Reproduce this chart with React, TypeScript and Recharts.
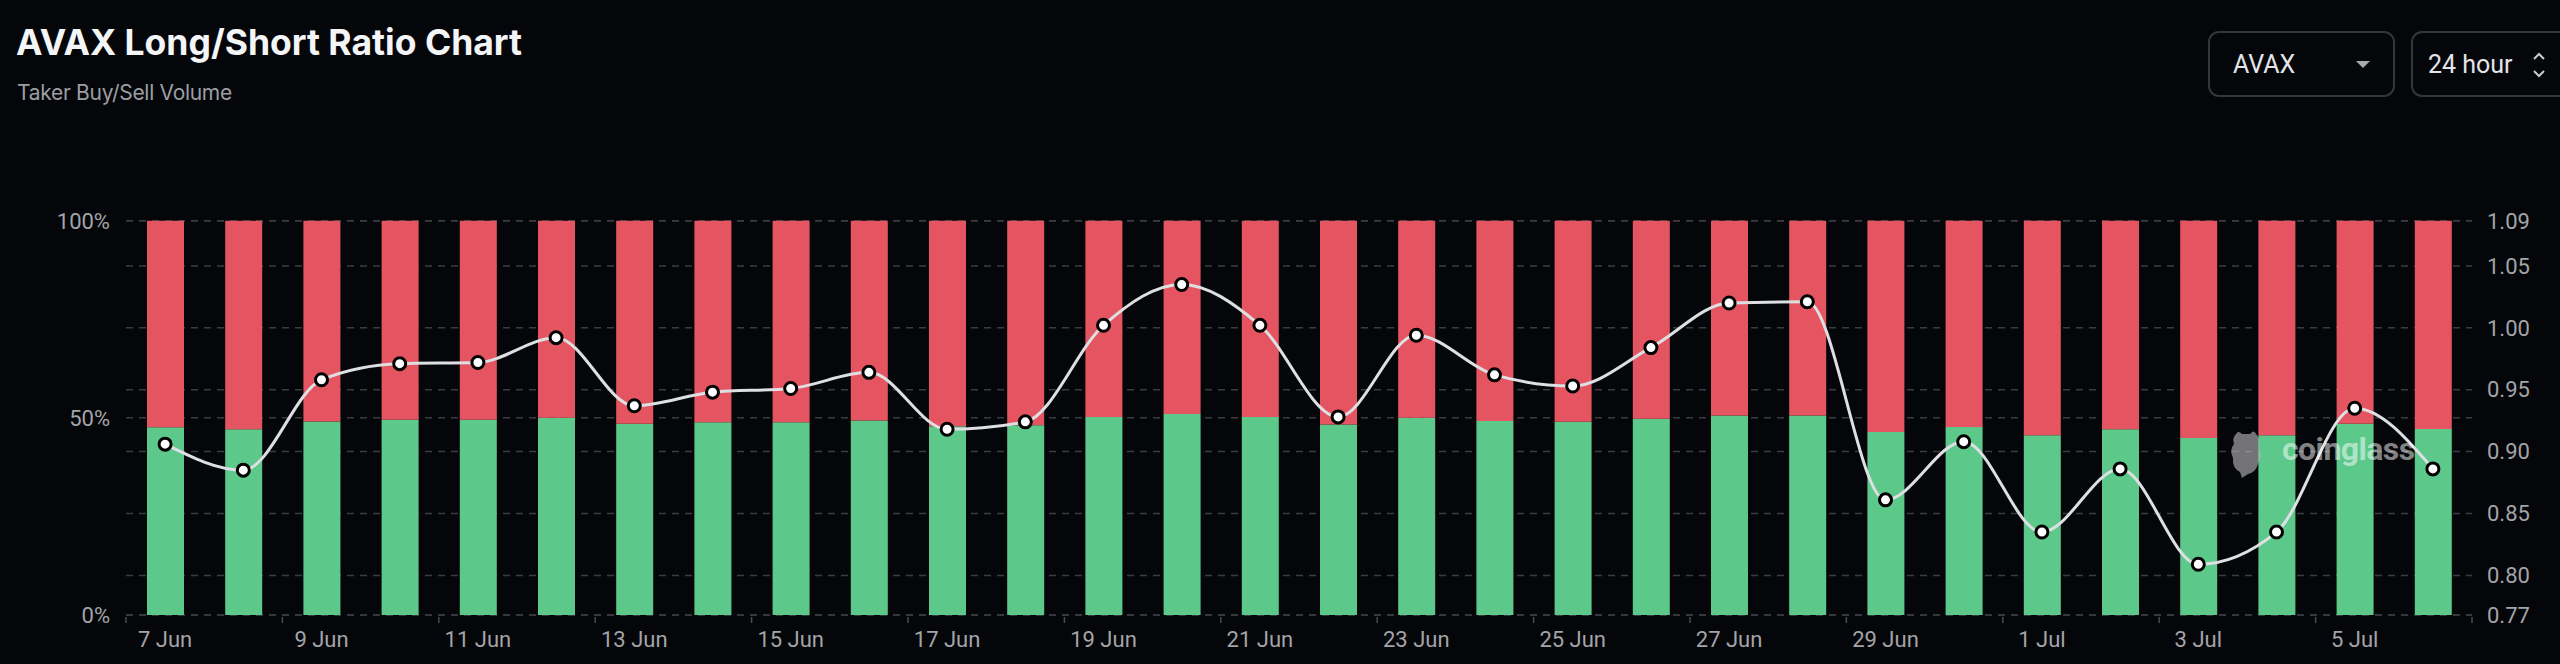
import React from 'react';
import { Bar, CartesianGrid, ComposedChart, Line, XAxis, YAxis } from 'recharts';

const DATES = [
  '7 Jun', '8 Jun', '9 Jun', '10 Jun', '11 Jun', '12 Jun', '13 Jun', '14 Jun', '15 Jun', '16 Jun',
  '17 Jun', '18 Jun', '19 Jun', '20 Jun', '21 Jun', '22 Jun', '23 Jun', '24 Jun', '25 Jun', '26 Jun',
  '27 Jun', '28 Jun', '29 Jun', '30 Jun', '1 Jul', '2 Jul', '3 Jul', '4 Jul', '5 Jul', '6 Jul',
];

// taker buy share (%) per day, the rest is sell
const LONG_PCT = [
  47.6, 47.1, 49.1, 49.5, 49.5, 50.0, 48.5, 48.9, 48.9, 49.3,
  47.9, 48.1, 50.2, 51.0, 50.2, 48.3, 50.0, 49.2, 49.0, 49.8,
  50.6, 50.6, 46.4, 47.7, 45.6, 47.1, 44.9, 45.6, 48.5, 47.2,
];

const RATIO = [
  0.906, 0.885, 0.958, 0.971, 0.972, 0.992, 0.937, 0.948, 0.951, 0.964,
  0.918, 0.924, 1.002, 1.035, 1.002, 0.928, 0.994, 0.962, 0.953, 0.984,
  1.02, 1.021, 0.861, 0.908, 0.835, 0.886, 0.809, 0.835, 0.935, 0.886,
];

const PCT_TICKS = [0, 50, 100];
const RATIO_DOMAIN = [0.768, 1.0865];
const RATIO_TICKS = [0.768, 0.8, 0.85, 0.9, 0.95, 1.0, 1.05, 1.0865];

const CHART_W = 2560;
const CHART_H = 664;
const LEFT_W = 126;
const RIGHT_W = 88;
const BAND = (CHART_W - LEFT_W - RIGHT_W) / DATES.length;

const BG = '#05060a';
const GREEN = '#5cc98b';
const RED = '#e55561';
const AXIS_TEXT = '#a3a4a8';
const GRID = '#3a3c41';

const data = DATES.map((date, i) => ({
  date,
  long: LONG_PCT[i],
  short: +(100 - LONG_PCT[i]).toFixed(1),
  ratio: RATIO[i],
}));

const DateTick = (props: any) => {
  const { x, y, payload } = props;
  const i = DATES.indexOf(payload.value);
  const axisY = y - 8;
  const showLabel = i % 2 === 0;
  const isLast = i === DATES.length - 1;
  return (
    <g>
      {showLabel && (
        <line x1={x - BAND / 2} x2={x - BAND / 2} y1={axisY + 2} y2={axisY + 8} stroke="#4a4c52" strokeWidth={1.5} />
      )}
      {isLast && (
        <line x1={x + BAND / 2} x2={x + BAND / 2} y1={axisY + 2} y2={axisY + 8} stroke="#4a4c52" strokeWidth={1.5} />
      )}
      {showLabel && (
        <text x={x} y={axisY + 32} textAnchor="middle" fill={AXIS_TEXT} fontSize={22} fontFamily="Roboto">
          {payload.value}
        </text>
      )}
    </g>
  );
};

function Header() {
  return (
    <>
      <div
        style={{
          position: 'absolute', left: 16, top: 25, fontFamily: 'Inter', fontWeight: 700,
          fontSize: 35.5, lineHeight: '35.5px', color: '#f4f5f7', whiteSpace: 'nowrap',
        }}
      >
        AVAX Long/Short Ratio Chart
      </div>
      <div
        style={{
          position: 'absolute', left: 17, top: 82, fontFamily: 'Inter', fontSize: 21,
          lineHeight: '21px', color: '#9c9ea4', letterSpacing: -0.3, whiteSpace: 'nowrap',
        }}
      >
        Taker Buy/Sell Volume
      </div>

      <div
        style={{
          position: 'absolute', left: 2208, top: 31, width: 187, height: 66, boxSizing: 'border-box',
          border: '2px solid #34363b', borderRadius: 11, display: 'flex', alignItems: 'center',
          paddingLeft: 23, fontFamily: 'Roboto', fontSize: 25, color: '#e4e5e8',
        }}
      >
        AVAX
        <div
          style={{
            position: 'absolute', left: 146, top: 28, width: 0, height: 0,
            borderLeft: '7px solid transparent', borderRight: '7px solid transparent',
            borderTop: '7px solid #a9aab0',
          }}
        />
      </div>
      <div
        style={{
          position: 'absolute', left: 2411, top: 31, width: 190, height: 66, boxSizing: 'border-box',
          border: '2px solid #34363b', borderRadius: 11, display: 'flex', alignItems: 'center',
          paddingLeft: 15, fontFamily: 'Roboto', fontSize: 25, color: '#e4e5e8',
        }}
      >
        24 hour
        <svg style={{ position: 'absolute', left: 119, top: 18 }} width={14} height={28}>
          <polyline points="2,8 7,3 12,8" fill="none" stroke="#c9cacf" strokeWidth={2} />
          <polyline points="2,20 7,25 12,20" fill="none" stroke="#c9cacf" strokeWidth={2} />
        </svg>
      </div>
    </>
  );
}

function Watermark() {
  return (
    <>
      <svg style={{ position: 'absolute', left: 2228, top: 428 }} width={36} height={52}>
        <path
          d="M8 6 Q10 2 14 6 L22 6 Q26 1 28 6 Q33 10 31 20 Q34 28 30 36 Q28 44 20 46 L14 50 L12 44 Q4 40 5 30 Q1 22 6 16 Q4 10 8 6 Z"
          fill="rgba(190,190,190,0.6)"
        />
      </svg>
      <div
        style={{
          position: 'absolute', left: 2282, top: 433, fontFamily: 'Roboto', fontWeight: 700, fontSize: 32,
          lineHeight: '32px', color: 'rgba(255,255,255,0.5)', letterSpacing: -0.6,
        }}
      >
        coinglass
      </div>
    </>
  );
}

export default function App() {
  return (
    <div
      style={{
        position: 'absolute', left: 0, top: 0, width: CHART_W, height: CHART_H,
        background: BG, overflow: 'hidden', fontFamily: 'Roboto',
      }}
    >
      <Header />
      <div style={{ position: 'absolute', left: 0, top: 0 }}>
        <ComposedChart
          width={CHART_W}
          height={CHART_H}
          data={data}
          margin={{ top: 220.7, right: 0, bottom: 19, left: 0 }}
          barSize={37}
        >
          <CartesianGrid yAxisId="pct" vertical={false} stroke={GRID} strokeDasharray="7 6" strokeWidth={1.5} />
          <CartesianGrid yAxisId="ratio" vertical={false} stroke={GRID} strokeDasharray="7 6" strokeWidth={1.5} />
          <XAxis
            dataKey="date"
            height={30}
            interval={0}
            axisLine={false}
            tickLine={false}
            tickSize={6}
            tickMargin={2}
            tick={<DateTick />}
          />
          <YAxis
            yAxisId="pct"
            orientation="left"
            width={LEFT_W}
            type="number"
            domain={[0, 100]}
            ticks={PCT_TICKS}
            interval={0}
            axisLine={false}
            tickLine={false}
            tickMargin={10}
            tickFormatter={(v: number) => `${v}%`}
            tick={{ fill: AXIS_TEXT, fontSize: 22, fontFamily: 'Roboto' }}
          />
          <YAxis
            yAxisId="ratio"
            orientation="right"
            width={RIGHT_W}
            type="number"
            domain={RATIO_DOMAIN}
            ticks={RATIO_TICKS}
            interval={0}
            axisLine={false}
            tickLine={false}
            tickMargin={9}
            tickFormatter={(v: number) => v.toFixed(2)}
            tick={{ fill: AXIS_TEXT, fontSize: 22, fontFamily: 'Roboto', textAnchor: 'start' }}
          />
          <Bar yAxisId="pct" dataKey="long" stackId="ls" fill={GREEN} isAnimationActive={false} />
          <Bar yAxisId="pct" dataKey="short" stackId="ls" fill={RED} isAnimationActive={false} />
          <Line
            yAxisId="ratio"
            type="monotone"
            dataKey="ratio"
            stroke="#dedfe2"
            strokeWidth={3}
            dot={{ r: 6, fill: '#ffffff', stroke: '#000000', strokeWidth: 3 }}
            activeDot={false}
            isAnimationActive={false}
          />
        </ComposedChart>
      </div>
      <Watermark />
    </div>
  );
}
